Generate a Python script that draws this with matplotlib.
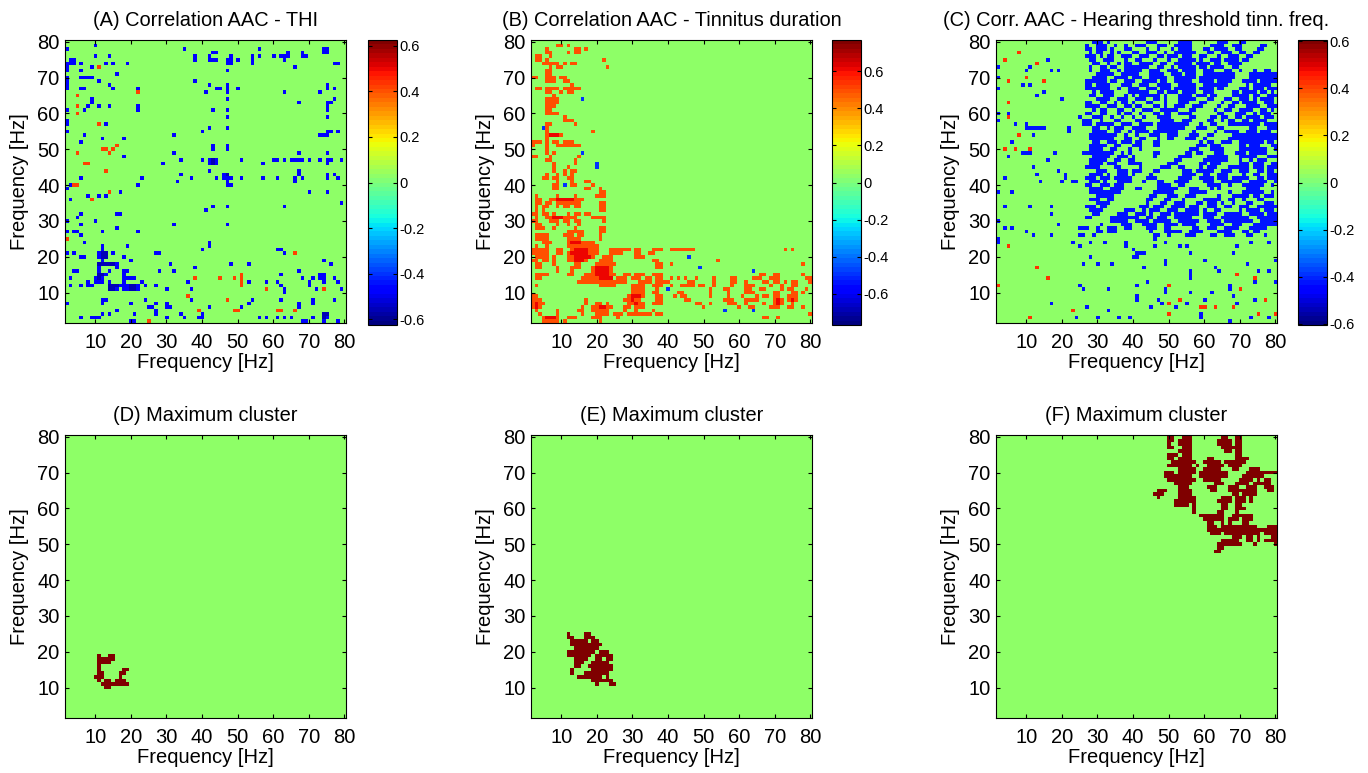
# Correlation maps of AAC and maximum clusters
import numpy as np
import matplotlib
matplotlib.use('Agg')
import matplotlib.pyplot as plt

plt.rcParams['font.family'] = ['Liberation Sans', 'DejaVu Sans']

titles = ['(A) Correlation AAC - THI', '(B) Correlation AAC - Tinnitus duration',
          '(C) Corr. AAC - Hearing threshold tinn. freq.',
          '(D) Maximum cluster', '(E) Maximum cluster', '(F) Maximum cluster']
freq_ticks = [10, 20, 30, 40, 50, 60, 70, 80]
cbar_ticks = [-0.6, -0.4, -0.2, 0, 0.2, 0.4, 0.6]
cbar_labels = ['-0.6', '-0.4', '-0.2', '0', '0.2', '0.4', '0.6']
color_limits = [0.626, 0.77, 0.606]

# significant cells: {y freq: "x freq runs"}
a_neg = {
    79: "10", 78: "2,35,56,74-75", 77: "43-44,64,68,74-75",
    76: "10,14,38,42,48,54,56,60,62-64,68-69", 75: "3-4,38,42-44,47-48,50,54,63",
    74: "2-4,6,13,15,19,47-48,54,77-78", 73: "2,9,66", 72: "2,6,47", 71: "16",
    70: "2,6-9", 69: "2,11,38", 68: "2,14,42,47,75", 67: "2,6-7,15,22,44-45,47,50,75,77",
    66: "41,47,63,73", 64: "9,47,77", 63: "9,67,75-76", 62: "8,11,14,22,75",
    61: "2,7,22,43,47,75", 59: "47,75", 58: "2", 57: "2,13", 56: "42,47",
    55: "2,40,75,76,78", 54: "7,32,73-75", 53: "12,18", 52: "6", 51: "43,47",
    50: "43,47", 49: "32,67,75", 48: "18",
    47: "34,40,42-44,51,60,61,63,65-68,70,73,75-76,79", 46: "29,42-44,57,75",
    44: "42,67", 43: "34,46-47,67,75,77", 42: "6,23,37,44,46-48,51,57,61,66,68,75,78",
    41: "33,47,66", 40: "3,22,47-48", 39: "2", 38: "17,70,75", 37: "8,11,13", 36: "3",
    35: "79", 34: "43,47,63", 33: "41", 32: "6,16,17", 31: "5", 30: "2,10",
    29: "6,32,47", 28: "16", 27: "2,4,5,12,22", 26: "6", 24: "7,42", 23: "12,19,42",
    22: "12,40,61-62", 21: "2,4,11-13,15,27-28,63", 20: "6-7,11-13,18", 19: "12,20,74",
    18: "11-16,31,48,53,76", 17: "11,16,38", 16: "4-5,11,14,18-19,28,32,67",
    15: "11-13,18,62,73-74", 14: "3,10-12,18-21,68,71,73-74,77",
    13: "8,10-12,14,18,23,36,53,58,61,70,74,78", 12: "3,6,8,9,14-22,24,27,62,70",
    11: "14-16,18-22,30,37,63,72,79", 10: "63", 8: "12-13,24,37,54,62,71,77",
    7: "2,12,20,27,30,53,67,71", 6: "25-26,30-31,42,51,67", 5: "16,27",
    4: "12,14,21,27,34,40,74-75", 3: "6,9-11,30,35,39-40,56,58,61,63,65,71,74-75",
    2: "20-21,68-69,74,78",
}
a_core = {
    21: "12-13", 20: "12-13", 18: "11-15", 15: "11-12", 14: "11", 12: "14-16,20-21",
    11: "14-15,20-21", 47: "43", 46: "43", 43: "47", 4: "74-75", 3: "74",
}
a_pos = {
    73: "11", 66: "22", 65: "5", 62: "5", 60: "5", 57: "11", 51: "16", 50: "12-13,15",
    49: "5,14", 46: "7-8", 44: "13", 40: "4-5", 38: "14", 36: "9", 25: "2", 21: "66",
    15: "51", 14: "38,45,49,51", 13: "51", 12: "51", 11: "58,74", 9: "36", 8: "47",
    5: "39,49-50,61,62,66", 2: "25",
}

b_pos = {
    79: "9-10,12", 78: "6,14-15,17", 77: "6-7,12,14-15", 76: "3-4,7", 75: "3-4,6,22",
    74: "5-9,11,13-14", 73: "7,9-10,23", 72: "6-7", 71: "6-7", 70: "2-3,6-8,10-11",
    69: "6-8,11-12", 68: "13", 67: "3-4,6-9,11-15", 66: "6-7,10,12-13", 65: "8",
    64: "6-9", 63: "6-9", 62: "6-8", 61: "6-7", 60: "6-9", 59: "11", 58: "11-13",
    57: "6-7,14", 56: "6", 55: "6,19", 54: "6-10", 53: "6", 52: "2-4,6,8-9,11-13",
    51: "2,6,9-15", 50: "6", 49: "6,8", 48: "2-3,7,15", 47: "6-7,14", 46: "8,14",
    45: "8,12", 44: "8,11,13-14", 43: "6,9,11,13", 42: "5-6,8-9,12-13", 41: "9,13,17-18",
    40: "8-9,13-14,19", 39: "8-9,17-18,21", 38: "21-22", 37: "3,9,14,20-22",
    36: "3-4,7-16", 35: "3-4,6-7,9-15,21-22", 34: "3,5-6,9,11-12,14-15,21-22",
    33: "3,5,21-22", 32: "2-3,5-6,8,12,14-15,17-18", 31: "3,6-14,19-22",
    30: "2-3,7-9,11-12,14-15,22", 29: "3-4,9,12,15", 28: "3-5,8,14,21-22",
    27: "12-16,21-22", 26: "3-6,11-13,15-16,21", 25: "3-6,12-15,21",
    24: "5-7,12-19", 23: "3,6,12-20", 22: "2-6,9-10,13-20,24-29,31-32,36-38,41-47,73,75",
    21: "2-6,9-10,12-20,24-27,31-32,35-36", 20: "3-6,8,12-19,22-24,31-33",
    19: "2-3,5-6,8,12-17,21-24,36-37,54", 18: "3-4,8,14-15,20-25,37-38,41,78",
    17: "3-4,9,13-15,19-24,37-38", 16: "9,13,19-24",
    15: "3-6,12-13,17-25,28-29,31-33,36-38,66-67,70-71,78",
    14: "3,4,16-24,26-28,30-32,34-35,37-38,41,43,45,48,53,58-59,64-66,69-71,79-80",
    13: "15-28,32-35,37-40,46-47,53,58-59,62,67-68,70-71,73,75-76,80",
    12: "3,21-25,30-33,36-38,41,44-47,49-50,53,58,62-64,69,72,75-76",
    11: "30-33,37,52,56-57,62-63,66-67,72,74-75,79",
    10: "30-33,36-37,43-44,52,57,62-64,70-71,75-76,78",
    9: "2-3,29-33,37-38,42,44-45,52,57,61,65,67-68,70-71,74-76",
    8: "2-4,17,28-32,37-38,45-46,56-58,62-65,70-72,74-76",
    7: "2-5,17,20-21,23,29-33,36-38,48-49,52,57-59,62,67,70-72,75",
    6: "2-4,16,19-24,28-29,31-33,50,60,63-64,69-71,74-75,78",
    5: "3,9,15-16,19-23,28,31,36", 4: "4,9,16,20-23,25-27,29-35,37-38,80",
    3: "5-9,12-14,19-21,26,67-68,71", 2: "5-9,11,21",
}
b_core = {
    54: "7-9", 36: "9-13", 31: "8-10", 24: "13-15", 22: "14-17", 21: "13-17",
    20: "14-18", 19: "14-16", 17: "20-23", 16: "20-23", 15: "20-23", 14: "21-24",
    9: "30-32", 8: "30,71,75", 7: "3,31,71", 6: "3,21-22", 3: "6-8",
}
b_neg = {
    64: "16", 56: "5", 49: "16", 46: "20", 45: "20", 40: "11", 20: "46", 17: "49",
    16: "64", 11: "40", 5: "56,64",
}

c_neg = {
    80: "29-31,33,44-46,53-56,64-66,70-71",
    79: "27,30-32,35,38,41-43,47-49,52-56,62-65,68-70,76-77",
    78: "27-28,30-32,34,38-39,44,47,51,53-56,60-61,63-66,69-70,75-76",
    77: "28,30-31,34,36,40-41,44-46,49,52-57,61-62,65-67,70-71,74-75",
    76: "27-29,31,33-34,37-39,42-44,47-48,50-52,54-56,59-60,64,67-69,72-73",
    75: "16,28-29,32-34,38,41-42,46,50,53-57,59,62-64,66-69,71-72",
    74: "29-30,33,36,38-39,42-45,48-49,52-56,58-61,63-64,67-70",
    73: "2,11,28,31-32,34-35,38-44,47-48,51,53-57,59-60,62-65,68-69,72",
    72: "10,17,19,28,31-33,36,38-42,45-47,50-52,54-57,60-62,66-67,70-71,74,77-78",
    71: "30-34,37-41,45-48,51-53,55-57,60-68,70,73-80",
    70: "2,29-32,35-38,40-42,45-49,52-57,59-70,73-80",
    69: "27-32,34-35,38-40,43-46,48-49,52-56,59-62,64-67,71-74,76-80",
    68: "9,11,27-28,30-33,37-39,42-44,47-50,53-57,60-66,68-69,72,74-78",
    67: "2,27-33,36,39-41,44-46,48-50,52-57,59-62,64-65,67-68,70-72,74-76,78-80",
    66: "15,29,31-34,39-44,47-48,50-52,54-57,60-62,65-66,68-69,71-74,76-77,79",
    65: "13,28-29,32-34,38,40,42-47,49,53-56,58-60,62-64,68-72,74-75,78-80",
    64: "20,30-33,36-38,41-43,46-47,49,53-57,61-63,66-67,70-72,74,76-79",
    63: "27-28,31-32,35,37-38,40,44-45,49,53-55,59-60,64-65,68-69,71-74,77-79",
    62: "27-30,33-35,38-39,41-42,46-47,49,52-54,57-59,62-64,67-68,72-75,78-80",
    61: "29,31-32,36-37,40,43-45,48-52,56-57,61-63,66-67,70-73,76-77,79",
    60: "2,5,27-28,31-32,36,38-39,42,46-47,49-50,53-56,59-60,64-65,69-71,74,76-78",
    59: "25,29-31,34,37,40,43,47-50,56-58,62-63,65-66,69-70,72-75,77-79",
    58: "2,26-28,31,35-36,41-42,48-51,54-58,61-62,65,67-68,71-72,74-77",
    57: "7,10,26-28,30-34,37-39,42-45,47-56,58-59,62-63,67-75,77-80",
    56: "10-15,22,29-30,33,35-37,40-43,47-54,56-60,64-65,73-74,78-80",
    55: "22,29-32,35-36,39,41-44,46-52,55-57,63,66-69,72-74,76-78",
    54: "12,28-35,38,41,45-47,50-54,56-58,61-62,68-80",
    53: "28-34,38-39,42-43,47,50-52,55-57,60,67-80",
    52: "6,29-30,33-35,37-39,41-42,46-47,51-53,59,61-62,65-67,70-76,78-79",
    51: "28-32,35-36,40-42,46-47,50-52,58-60,62-64,70-71,73-75,79-80",
    50: "28-31,34-35,39,42,49-51,56-58,62-65,70-77,80",
    49: "9-11,18,26-34,37,39,46-47,55-56,58-59,63-65,69-71,73-77",
    48: "5,29-33,36-38,40,46,49,53-56,61-66,70-74,78-80",
    47: "16,28-32,35-36,39-40,46,52-53,60-66,70,73,75-77",
    46: "28-31,33-35,39-42,46-47,50-52,59-60,62-64,70-72,74-76,79-80",
    45: "12,27-30,35-36,42,44-45,48-50,53-54,59,61-63,67-72,74-76,78-80",
    44: "19,30-32,36-38,40-42,44-47,54-56,58-62,65-67,70-72,75-76,78-79",
    43: "13,21,28-31,33,36-38,40,42-45,54-57,60-61,64-66,71,74-75,78-80",
    42: "4,21,27-29,31-33,35-39,41-46,53-56,59-62,64-66,68-72,75-76,78-80",
    41: "14,20,23-24,28-30,32,36-43,47-48,52-55,60-62,65-70,73-77,80",
    40: "27-28,31-33,35-37,40-41,47-50,53-54,61-64,67,71-76,79",
    39: "28-31,34-37,39-42,47-52,56-58,62,64,72-75",
    38: "2,6,28-36,46-51,56-60,67,71-76,79",
    37: "30-34,37,45-46,50-52,55-57,64,68-72,74-75,77-79",
    36: "28-30,33-35,44-45,49-50,54,60-64,67-68,71,75-76",
    35: "30-35,44,48-49,52-54,58-59,61-63,65,68,72-73,77-79",
    34: "4,11,17,27-29,31-33,42-44,46-48,51-54,56-58,61-63,66-67,70-72,75-80",
    33: "28-34,38-40,43,45-47,50-52,55-58,60,63-64,70,72-75,77-79",
    32: "17,29-31,36-38,41-43,45,48-50,52-58,60-63,66-70,73-76,78-80",
    31: "27-28,31,34-41,44-45,47-49,52-56,60-62,65-72,75-80",
    30: "2,34-38,41-44,46-50,53-58,61-64,66-73,76-80",
    29: "19,30-31,37-39,43-46,49-52,54-57,62-65,68-70,74-80",
    28: "4,6,25-27,30,33-35,38-39,44-46,49-50,57-58,61-63,66-69,73-77",
    27: "10,30-31,33-35,45,49-53,56-59,64-67,71-72,74-75",
    26: "12,17,25-26,29,46-47,50,55-57,62-63,66-68,72-73,77",
    25: "2,46", 24: "2,23,28,32,38,49,73,78", 23: "25,38,46,53,55,69", 22: "40",
    21: "41-43,56,68", 20: "28,40-41", 19: "49,60,80", 18: "26,30,34,49,72",
    17: "43,63", 16: "56,64,75,78", 15: "56", 14: "56", 13: "44,74,80",
    12: "25,41,50,67", 11: "26,33,49,67", 10: "49,56,62", 9: "41,68", 8: "41,47,60,74",
    7: "17,48,55,69", 6: "27,45,52", 5: "33", 4: "59", 3: "24,30,36,39,59,73,78", 2: "67",
}
c_pos = {
    77: "8", 75: "4", 74: "13", 70: "10", 69: "5,15", 63: "5", 59: "5", 54: "8",
    50: "4,7,11", 23: "5", 17: "13", 15: "69", 14: "16,74", 12: "2,50", 11: "70",
    8: "53,77", 7: "50", 6: "59-60,63,68", 5: "23", 4: "50,75,80", 3: "11",
}
# the empty band along the diagonal of panel C
c_gap_from = 30

d_cluster = {
    19: "11,14-15", 18: "11-15", 17: "11-14", 16: "11", 15: "11,18-19", 14: "11-12,17-18",
    13: "10-12,17", 12: "11,13-14,16-18", 11: "12-19", 10: "13-14",
}
e_cluster = {
    25: "12,17-18", 24: "12-13,17-19", 23: "13-17,19-20", 22: "13-18,19-21", 21: "14-17,18-20",
    20: "12-19,21-23", 19: "12-18,20-24", 18: "14-17,20-21,23-24", 17: "14-16,19-23",
    16: "14-15,18-24", 15: "13,19-24", 14: "13,17-23", 13: "15-21,23", 12: "19-20,21-24",
    11: "20,24-25",
}
f_cluster = {
    80: "50-51,54-56,65-66,69-70", 79: "50-51,53-56,64-67,69-70", 78: "50,53-56,64-67,69-70",
    77: "50-51,54-56,65-70", 76: "53-56,66-67,69-70", 75: "50-52,54-56,69-70",
    74: "50-51,53-56,61-62,69-72", 73: "51-57,60-64,66-71", 72: "50-56,58,61-65,67-70",
    71: "53-57,60-64,68-69,73-75", 70: "49-51,53-57,59-66,72-80", 69: "49-56,59-66,71-76",
    68: "50-57,60-64,70-73,75,77-78", 67: "52-56,63-65,69-72,74-78", 66: "53-55,61-63,67-69,72-74,77-79",
    65: "47-49,53-56,62-63,67-74,78-79", 64: "46-48,53-56,68-69,71-74", 63: "47,53-57,65-67,69-71,73",
    62: "52-57,64-67,69-71,73", 61: "52-55,57,65-66,69-70", 60: "57,65-66,69-71", 59: "57,64-65,69",
    58: "59-65,68-73", 57: "60-65,67-69,71-73", 56: "61-62,65,67,71-72", 55: "61-63,65-74,78-80",
    54: "61-80", 53: "62-64,66-75,77-80", 52: "68-70,72-73,75,79-80", 51: "65-69,72-73,75,77-80",
    50: "64-70,74,80", 49: "64-65", 48: "63-64",
}


def fill(grid, rows, value):
    for y, runs in rows.items():
        for run in runs.split(','):
            parts = run.split('-')
            x0, x1 = int(parts[0]), int(parts[-1])
            grid[y - 2, x0 - 2:x1 - 1] = value


def make_grid(lim, *layers):
    # background sits just above zero, that is the green of the picture
    grid = np.full((79, 79), 0.035 * lim)
    for rows, value in layers:
        fill(grid, rows, value)
    return grid


grids = [
    make_grid(0.626, (a_neg, -0.45), (a_core, -0.56), (a_pos, 0.42)),
    make_grid(0.77, (b_pos, 0.5), (b_core, 0.62), (b_neg, -0.5)),
    make_grid(0.606, (c_neg, -0.43), (c_pos, 0.42)),
    make_grid(1, (d_cluster, 1)),
    make_grid(1, (e_cluster, 1)),
    make_grid(1, (f_cluster, 1)),
]
for k in range(c_gap_from, 81):
    for j in range(k - 1, min(k + 1, 80) + 1):
        grids[2][k - 2, j - 2] = 0.035 * 0.606
        grids[2][j - 2, k - 2] = 0.035 * 0.606

jet64 = plt.get_cmap('jet', 64)
W, H = 1368, 773
lefts = [65, 531, 996]
tops = [40, 435]
cbar_lefts = [368, 832, 1298]


def rect(x, y, w, h):
    return [x / W, 1 - (y + h) / H, w / W, h / H]


fig = plt.figure(figsize=(W / 100, H / 100), dpi=100)
for i in range(6):
    ax = fig.add_axes(rect(lefts[i % 3], tops[i // 3], 281, 283))
    lim = color_limits[i] if i < 3 else 1
    im = ax.imshow(grids[i], origin='lower', extent=(1.5, 80.5, 1.5, 80.5), cmap=jet64,
                   vmin=-lim, vmax=lim, interpolation='nearest', aspect='auto')
    ax.set_xticks(freq_ticks)
    ax.set_yticks(freq_ticks)
    ax.tick_params(direction='in', top=True, right=True, length=3, width=0.8, labelsize=14.5)
    ax.tick_params(axis='x', pad=7)
    ax.tick_params(axis='y', pad=4)
    ax.set_xlabel('Frequency [Hz]', fontsize=14.5, labelpad=1)
    ax.set_ylabel('Frequency [Hz]', fontsize=14.5, labelpad=6)
    ax.set_title(titles[i], fontsize=14.4, pad=10)
    if i < 3:
        cax = fig.add_axes(rect(cbar_lefts[i], 40, 29, 285))
        cb = fig.colorbar(im, cax=cax)
        cb.set_ticks(cbar_ticks)
        cb.set_ticklabels(cbar_labels)
        cax.tick_params(direction='in', left=True, right=True, length=3, width=0.8, labelsize=10.5, pad=2)

plt.savefig('out.png', dpi=100)
